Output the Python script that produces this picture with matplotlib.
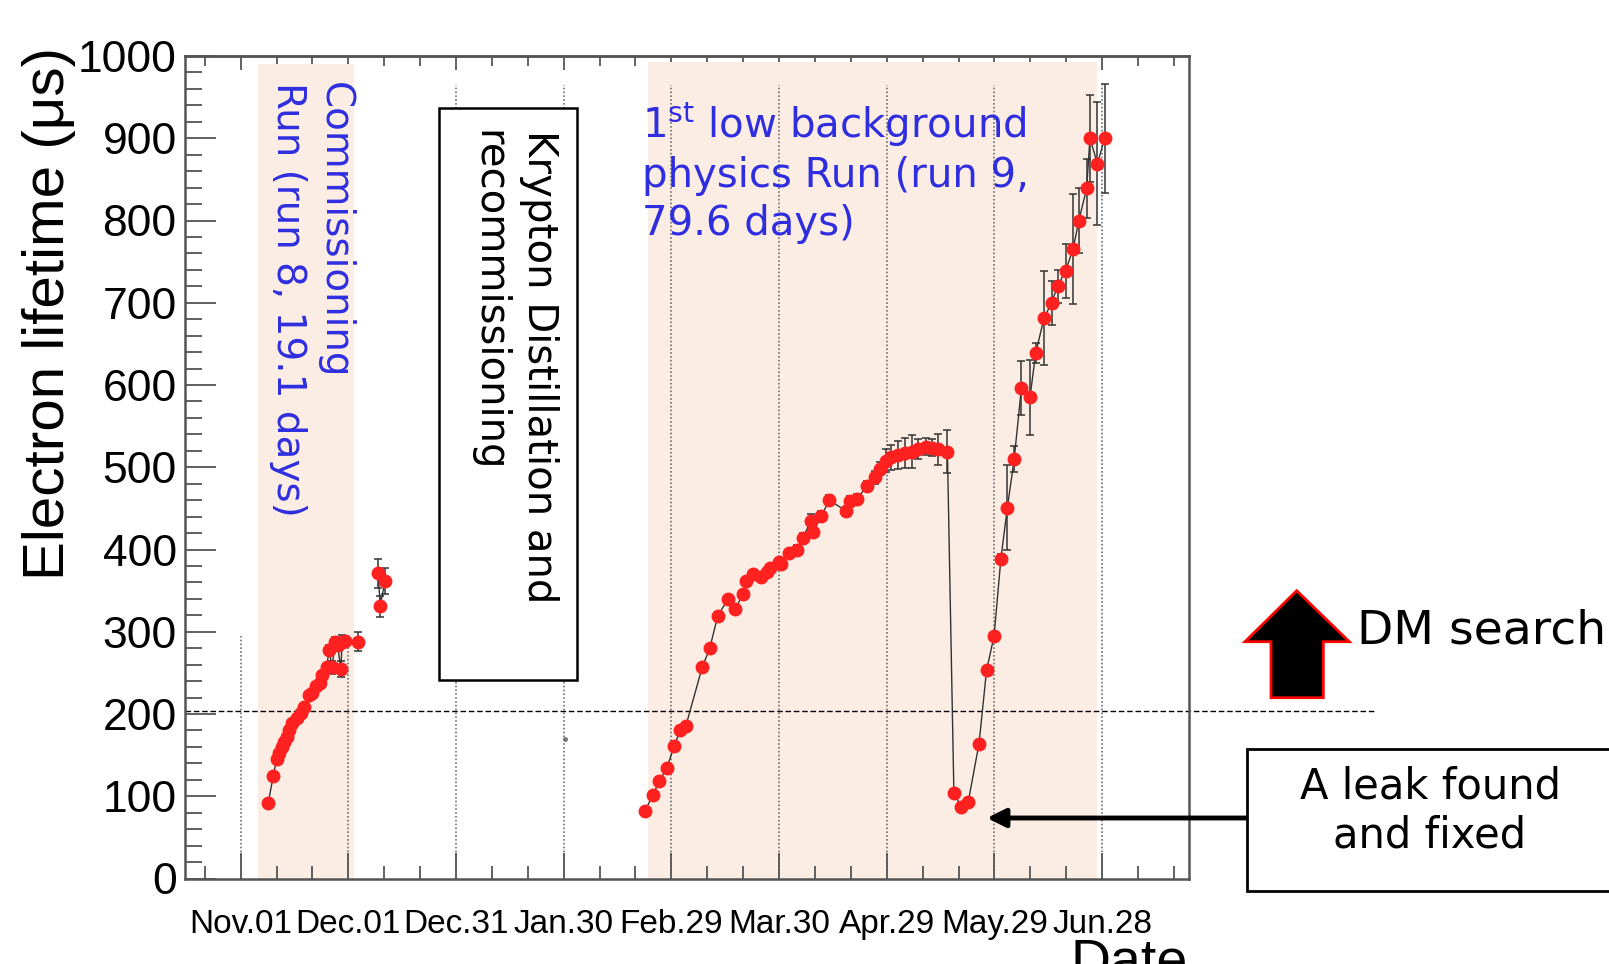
import matplotlib
matplotlib.use('Agg')
import matplotlib.pyplot as plt
from matplotlib.patches import Rectangle, Polygon, FancyArrowPatch
from matplotlib import font_manager as fm

W, H, DPI = 1609, 964, 100

# ---------------- data ----------------
date_labels = ['Nov.01', 'Dec.01', 'Dec.31', 'Jan.30', 'Feb.29',
               'Mar.30', 'Apr.29', 'May.29', 'Jun.28']
date_days = [0, 30, 60, 90, 120, 150, 180, 210, 240]   # days since Nov.01

run8_day = [7.7, 9.1, 10.0, 10.7, 11.4, 12.1, 12.8, 13.5, 14.4, 15.6, 16.8, 17.7, 19.0,
            19.9, 20.9, 22.1, 22.8, 24.0, 24.6, 25.5, 26.3, 27.0, 27.9, 28.3, 29.0, 32.8]
run8_val = [92, 125, 145, 153, 160, 166, 172, 180, 189, 195, 201, 209, 223,
            226, 234, 238, 247, 257, 278, 257, 288, 284, 255, 288, 289, 288]
run8_err = [2, 2, 2, 2, 2, 2, 2, 3, 3, 3, 3, 3, 3,
            3, 3, 4, 4, 5, 6, 8, 6, 8, 10, 8, 6, 12]

dec_day = [38.3, 38.9, 40.2]
dec_val = [371, 331, 362]
dec_err = [18, 13, 16]

run9_day = [112.6, 114.8, 116.6, 118.7, 120.8, 122.4, 124.0,
            128.6, 130.7, 132.9, 135.8, 137.8, 140.0,
            140.8, 142.8, 145.1, 146.5, 147.6, 150.0, 150.6,
            152.8, 154.9, 156.7, 158.8, 159.5, 161.8, 164.0,
            168.6, 169.7, 171.8, 174.5, 176.7, 178.1,
            179.9, 181.3, 183.2, 185.0, 186.9, 188.7, 190.9, 192.5, 194.3, 196.9,
            198.7, 200.8, 202.7, 205.7, 207.8, 209.9, 211.8, 213.6, 215.5,
            217.5, 219.9, 221.5, 223.8, 225.9, 227.6, 229.8, 231.9, 233.5, 235.7, 236.6, 238.7, 240.7]
run9_val = [82, 101, 118, 134, 161, 180, 185,
            257, 280, 319, 340, 328, 346,
            362, 370, 366, 373, 377, 385, 382,
            396, 400, 414, 435, 421, 441, 460,
            447, 459, 462, 477, 488, 498,
            508, 512, 515, 517, 519, 522, 525, 524, 522, 519,
            104, 87, 93, 164, 253, 295, 389, 451, 510,
            596, 585, 639, 681, 700, 720, 739, 765, 800, 839, 900, 869, 900]
run9_err = [2, 2, 2, 3, 3, 3, 3,
            3, 3, 3, 3, 3, 3,
            4, 4, 4, 4, 5, 5, 5,
            5, 5, 6, 8, 6, 6, 6,
            5, 6, 6, 6, 8, 8,
            14, 15, 17, 18, 20, 12, 10, 10, 19, 26,
            3, 3, 3, 4, 4, 5, 6, 52, 16,
            33, 46, 12, 57, 27, 20, 33, 67, 40, 36, 53, 75, 66]

stray_day = [90.3]
stray_val = [169]

dm_threshold = 204
run8_band = (4.7, 31.6)
run9_band = (113.5, 238.5)

# ---------------- fonts ----------------
names = {f.name for f in fm.fontManager.ttflist}
if 'Liberation Sans Narrow' in names:
    narrow, xfs = 'Liberation Sans Narrow', 31
else:
    narrow, xfs = 'Liberation Sans', 24
sans = 'Liberation Sans'
ann = 'DejaVu Sans'
BLUE = '#2E2EE0'
RED = '#FF2020'
BEIGE = '#FBEDE3'
AXC = '#555555'


def fx(x):
    return x / W


def fy(y):
    return 1 - y / H


fig = plt.figure(figsize=(W / DPI, H / DPI), dpi=DPI)
ax = fig.add_axes([fx(185), fy(878.5), (1189 - 185) / W, (878.5 - 56) / H])
ax.set_xlim(-15.5, 264.2)
ax.set_ylim(0, 1000)

# bands
ax.axvspan(*run8_band, ymin=0, ymax=0.99, color=BEIGE, lw=0, zorder=0.5)
ax.axvspan(*run9_band, ymin=0, ymax=0.993, color=BEIGE, lw=0, zorder=0.5)

# grid lines at major ticks
for i, d in enumerate(date_days):
    top = 0.295 if i < 2 else 0.965
    ax.axvline(d, ymin=0, ymax=top, color='#6f6f6f', lw=1.2, ls=(0, (1, 1.3)), zorder=1)

# DM threshold dashed line
ax.axhline(dm_threshold, xmin=0, xmax=(1375 - 185) / (1189 - 185), color='black',
           lw=1.0, ls=(0, (4, 2)), clip_on=False, zorder=2)

# data
for xs, ys, es in [(run8_day, run8_val, run8_err), (dec_day, dec_val, dec_err),
                   (run9_day, run9_val, run9_err)]:
    ax.errorbar(xs, ys, yerr=es, fmt='none', ecolor='#333333', elinewidth=1.1,
                capsize=3.2, capthick=1.1, zorder=3)
    ax.plot(xs, ys, color='#333333', lw=1.0, zorder=3)
    ax.plot(xs, ys, 'o', ls='none', ms=9, mfc=RED, mec=RED, zorder=4)
ax.plot(stray_day, stray_val, 'o', ls='none', ms=2.5, color='#777777', zorder=4)

# ticks
ax.set_xticks(date_days)
ax.set_xticklabels(date_labels, family=narrow, fontsize=xfs)
ax.set_xticks(list(range(-10, 261, 10)), minor=True)
ax.set_yticks(list(range(0, 1001, 100)))
ax.set_yticks(list(range(0, 1001, 20)), minor=True)
for lab in ax.get_yticklabels():
    lab.set_family(sans)
    lab.set_fontsize(32)
ax.tick_params(axis='x', which='major', direction='in', length=19, width=1.3,
               color=AXC, pad=22)
ax.tick_params(axis='x', which='minor', direction='in', length=9.5, width=1.3, color=AXC)
ax.tick_params(axis='y', which='major', direction='in', length=22, width=1.3,
               color=AXC, pad=6)
ax.tick_params(axis='y', which='minor', direction='in', length=12, width=1.3, color=AXC)
for s in ax.spines.values():
    s.set_color(AXC)
    s.set_linewidth(1.8)

top = ax.secondary_xaxis('top')
top.set_xticks(date_days)
top.set_xticks(list(range(-10, 261, 10)), minor=True)
top.tick_params(which='major', direction='in', length=10, width=1.3, color=AXC, labeltop=False)
top.tick_params(which='minor', direction='in', length=7, width=1.3, color=AXC)
top.spines['top'].set_color(AXC)
top.spines['top'].set_linewidth(1.8)

# axis titles
fig.text(fx(49), fy(313), 'Electron lifetime (μs)', rotation=90, ha='center', va='center',
         fontsize=42, family=sans)
fig.text(fx(1188), fy(937), 'Date', ha='right', va='top', fontsize=40, family=narrow)

# annotations
fig.text(fx(311.5), fy(81.7), 'Commissioning\nRun (run 8, 19.1 days)', rotation=270,
         ha='center', va='top', color=BLUE, fontsize=28, family=ann,
         linespacing=1.3, multialignment='left')

fig.add_artist(Rectangle((fx(439.3), fy(680)), (577.3 - 439.3) / W, (680 - 108.3) / H,
                         transform=fig.transFigure, fc='white', ec='black', lw=1.8, zorder=5))
fig.text(fx(514), fy(130), 'Krypton Distillation and\nrecommissioning', rotation=270,
         ha='center', va='top', color='black', fontsize=29, family=ann,
         linespacing=1.35, multialignment='left', zorder=6)

fig.text(fx(642), fy(100), '1$^{\\rm st}$ low background\nphysics Run (run 9,\n79.6 days)',
         ha='left', va='top', color=BLUE, fontsize=29, family=ann, linespacing=1.25)

arrow_pts = [(1296.7, 590.7), (1349.3, 641.7), (1323.3, 641.7), (1323.3, 697.7),
             (1271, 697.7), (1271, 641.7), (1245, 641.7)]
fig.add_artist(Polygon([(fx(x), fy(y)) for x, y in arrow_pts], closed=True,
                       transform=fig.transFigure, fc='black', ec='red', lw=2, zorder=5))
fig.text(fx(1357), fy(631), 'DM search', ha='left', va='center', fontsize=34, family=ann)

fig.add_artist(Rectangle((fx(1246.7), fy(891)), (1640 - 1246.7) / W, (891 - 749.3) / H,
                         transform=fig.transFigure, fc='white', ec='black', lw=2, zorder=5))
fig.text(fx(1430), fy(811), 'A leak found\nand fixed', ha='center', va='center',
         fontsize=30, family=ann, linespacing=1.2, zorder=6)
fig.add_artist(FancyArrowPatch((fx(1246), fy(818)), (fx(987), fy(818)),
                               transform=fig.transFigure, arrowstyle='-|>',
                               mutation_scale=28, lw=3.5, color='black',
                               shrinkA=0, shrinkB=0, zorder=5))

fig.savefig('out.png', dpi=DPI)
